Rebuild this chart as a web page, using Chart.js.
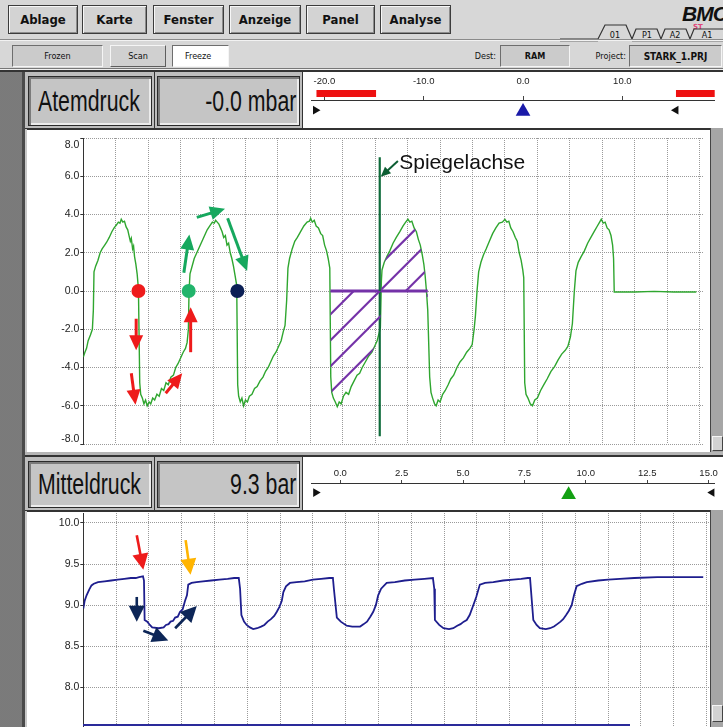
<!DOCTYPE html>
<html><head><meta charset="utf-8"><title>Atemdruck / Mitteldruck</title>
<script src="https://cdn.jsdelivr.net/npm/chart.js@4.4.0/dist/chart.umd.min.js"></script>
<style>
*{box-sizing:border-box}
html,body{margin:0;padding:0}
body{width:723px;height:727px;overflow:hidden;position:relative;background:#d7d7d7;font-family:"Liberation Sans",Arial,sans-serif;color:#111}
.a{position:absolute}
.menu{position:absolute;top:5px;height:29px;background:#d3d3d3;border:1px solid #3c3c3c;box-shadow:inset 1px 1px 0 #f7f7f7,inset -1px -1px 0 #8c8c8c;font:bold 13px "DejaVu Sans Condensed","DejaVu Sans",sans-serif;display:flex;align-items:center;justify-content:center}
.tb{position:absolute;top:45px;height:22px;font:9px "DejaVu Sans Condensed","DejaVu Sans",sans-serif;display:flex;align-items:center;justify-content:center}
.sunk{border:1px solid;border-color:#6e6e6e #f5f5f5 #f5f5f5 #6e6e6e;background:#cbcbcb}
.rais{border:1px solid;border-color:#f5f5f5 #5e5e5e #5e5e5e #f5f5f5;background:#d0d0d0}
.box{position:absolute;background:#c5c5c5;border:1px solid #2a2a2a;box-shadow:inset 2px 2px 0 #7b7b7b,inset -2px -2px 0 #ececec}
.big{position:absolute;font-size:30px;line-height:34px;white-space:nowrap;transform:scaleX(0.71)}
.strip{background-color:#a9a9a9;background-image:radial-gradient(#777 0.7px,transparent 0.8px);background-size:2px 2px}
.sb{position:absolute;background:#a6a6a6;border-left:1px solid #444}
.sbb{position:absolute;background:#d2d2d2;border:1px solid;border-color:#f5f5f5 #444 #444 #f5f5f5}
canvas{position:absolute;display:block}
</style></head><body>

<!-- menu bar -->
<div class="menu" style="left:8px;width:70px">Ablage</div>
<div class="menu" style="left:82px;width:65px">Karte</div>
<div class="menu" style="left:153px;width:71px">Fenster</div>
<div class="menu" style="left:229px;width:72px">Anzeige</div>
<div class="menu" style="left:306px;width:69px">Panel</div>
<div class="menu" style="left:380px;width:71px">Analyse</div>
<div class="a" style="left:682px;top:2px;font:italic bold 21px 'Liberation Sans',Arial;letter-spacing:-1px;color:#111">BMC</div>
<div class="a" style="left:693px;top:23px;font:bold 7px 'DejaVu Sans',sans-serif;color:#e0457a">ST</div>
<svg class="a" style="left:560px;top:20px" width="163" height="22">
  <polyline points="0,19 38,19 45,5 66,5 72,19 76,9 97,9 101,19 105,9 126,9 130,19 134,9 163,9" fill="none" stroke="#333" stroke-width="1.2"/>
  <line x1="0" y1="21" x2="38" y2="21" stroke="#777" stroke-width="1"/>
  <line x1="72" y1="21" x2="163" y2="21" stroke="#777" stroke-width="1"/>
  <text x="55" y="18" font-size="9" font-family="DejaVu Sans Condensed, DejaVu Sans" text-anchor="middle" fill="#111">01</text>
  <text x="87" y="18" font-size="9" font-family="DejaVu Sans Condensed, DejaVu Sans" text-anchor="middle" fill="#111">P1</text>
  <text x="115" y="18" font-size="9" font-family="DejaVu Sans Condensed, DejaVu Sans" text-anchor="middle" fill="#111">A2</text>
  <text x="147" y="18" font-size="9" font-family="DejaVu Sans Condensed, DejaVu Sans" text-anchor="middle" fill="#111">A1</text>
</svg>
<div class="a" style="left:0;top:39px;width:723px;height:1px;background:#8a8a8a"></div>
<div class="a" style="left:0;top:40px;width:723px;height:1px;background:#f2f2f2"></div>

<!-- toolbar -->
<div class="tb sunk" style="left:12px;width:91px">Frozen</div>
<div class="tb rais" style="left:110px;width:56px">Scan</div>
<div class="tb sunk" style="left:172px;width:57px;background:#fff;justify-content:flex-start;padding-left:12px">Freeze</div>
<div class="tb" style="left:462px;width:34px;justify-content:flex-end">Dest:</div>
<div class="tb sunk" style="left:500px;width:70px;font-weight:bold">RAM</div>
<div class="tb" style="left:584px;width:42px;justify-content:flex-end">Project:</div>
<div class="tb sunk" style="left:629px;width:93px;font-weight:bold;font-size:10px">STARK_1.PRJ</div>
<div class="a" style="left:0;top:68px;width:723px;height:1px;background:#777"></div>
<div class="a" style="left:0;top:69px;width:723px;height:1px;background:#f0f0f0"></div>
<div class="a" style="left:0;top:70px;width:723px;height:2px;background:#333"></div>

<!-- left strip -->
<div class="a strip" style="left:0;top:72px;width:22px;height:655px"></div>
<div class="a" style="left:22px;top:72px;width:3px;height:655px;background:#4a4a4a"></div>
<div class="a" style="left:25px;top:72px;width:2px;height:655px;background:#c9c9c9"></div>

<!-- header Atemdruck -->
<div class="a" style="left:25px;top:72px;width:278px;height:57px;background:#bdbdbd;border-bottom:1px solid #333"></div>
<div class="box" style="left:28px;top:76px;width:124px;height:50px"></div>
<div class="a" style="left:154px;top:72px;width:1px;height:57px;background:#333"></div>
<div class="box" style="left:157px;top:76px;width:143px;height:50px"></div>
<div class="big" style="left:38px;top:84px;transform-origin:left center">Atemdruck</div>
<div class="big" style="right:427px;top:84px;transform-origin:right center">-0.0 mbar</div>
<div class="a" style="left:302px;top:72px;width:421px;height:56px;background:#fff;border-left:1px solid #333"></div>
<canvas id="scaleAtem" width="420" height="54" style="left:303px;top:72px"></canvas>

<!-- chart Atemdruck -->
<div class="a" style="left:27px;top:128px;width:683px;height:324px;background:#fff;border-top:2px solid #333"></div>
<canvas id="chartAtem" width="685" height="320" style="left:25px;top:131px"></canvas>
<div class="sb" style="left:710px;top:128px;width:13px;height:324px"></div>
<div class="sbb" style="left:712px;top:436px;width:11px;height:15px"></div>
<div class="a" style="left:25px;top:452px;width:698px;height:3px;background:#b5b5b5"></div>
<div class="a" style="left:25px;top:455px;width:698px;height:2px;background:#333"></div>

<!-- header Mitteldruck -->
<div class="a" style="left:25px;top:457px;width:278px;height:54px;background:#bdbdbd;border-bottom:1px solid #333"></div>
<div class="box" style="left:28px;top:461px;width:124px;height:47px"></div>
<div class="a" style="left:154px;top:457px;width:1px;height:54px;background:#333"></div>
<div class="box" style="left:157px;top:461px;width:143px;height:47px"></div>
<div class="big" style="left:38px;top:467px;transform-origin:left center">Mitteldruck</div>
<div class="big" style="right:427px;top:467px;transform-origin:right center">9.3 bar</div>
<div class="a" style="left:302px;top:457px;width:421px;height:54px;background:#fff;border-left:1px solid #333"></div>
<canvas id="scaleMittel" width="420" height="53" style="left:303px;top:457px"></canvas>

<!-- chart Mitteldruck -->
<div class="a" style="left:27px;top:510px;width:683px;height:217px;background:#fff;border-top:2px solid #333"></div>
<canvas id="chartMittel" width="685" height="214" style="left:25px;top:513px"></canvas>
<div class="sb" style="left:710px;top:510px;width:13px;height:217px"></div>
<div class="sbb" style="left:712px;top:705px;width:11px;height:17px"></div>
<div class="a" style="left:83px;top:724px;width:547px;height:2px;background:#2a2a9a"></div>

<script>
// ---------- data ----------
const gridX = [0,1,2,3,4,5,6,7,8,9,10,11,12,13,14,15,16,17,18,19];
const atemYTicks = [-8,-6,-4,-2,0,2,4,6,8];
const mittelYTicks = [8.0,8.5,9.0,9.5,10.0];
const atemScaleTicks = [-20,-10,0,10];
const mittelScaleTicks = [0,2.5,5,7.5,10,12.5,15];
const atemValue = -0.0;
const mittelValue = 9.3;
const atemLimits = [-20.9, 15.4];
const mittelLimits = [-1.0, 15.15];
const atemAlarmRanges = [[-20.8,-14.8],[15.4,19.3]];

// Atemdruck [t, mbar]
const atemdruck = [
[0.00,-3.45],[0.05,-3.2],[0.10,-3.0],[0.15,-2.6],[0.22,-2.3],[0.28,-2.0],[0.31,-1.0],[0.33,1.0],[0.38,1.3],[0.45,1.6],[0.52,2.0],[0.58,2.2],[0.66,2.4],[0.72,2.55],[0.80,2.8],[0.88,3.1],[0.95,3.3],[1.02,3.45],[1.08,3.6],[1.13,3.55],[1.17,3.75],[1.22,3.6],[1.27,3.65],[1.32,3.35],[1.37,3.2],[1.41,2.9],[1.45,2.6],[1.48,2.75],[1.52,2.2],[1.55,2.35],[1.58,1.8],[1.62,1.4],[1.66,0.9],[1.70,0.1],
[1.74,-4.8],[1.77,-5.4],[1.82,-5.6],[1.87,-5.9],[1.92,-5.7],[1.97,-6.0],[2.03,-5.8],[2.08,-5.9],[2.14,-5.6],[2.20,-5.7],[2.27,-5.4],[2.34,-5.5],[2.41,-5.1],[2.48,-5.2],[2.55,-4.8],[2.62,-4.9],[2.70,-4.5],[2.78,-4.4],[2.85,-4.0],[2.92,-3.8],[3.00,-3.5],[3.08,-3.2],[3.15,-3.0],[3.20,-2.7],[3.24,-2.0],[3.26,0.0],[3.29,0.9],[3.34,1.2],[3.42,1.7],[3.50,2.0],[3.58,2.3],[3.66,2.6],[3.74,2.9],[3.82,3.2],[3.90,3.4],[3.98,3.6],[4.04,3.55],[4.08,3.7],[4.13,3.6],[4.18,3.5],[4.23,3.3],[4.28,3.1],[4.33,2.8],[4.38,2.9],[4.43,2.4],[4.48,2.5],[4.53,2.0],[4.58,1.7],[4.63,1.3],[4.68,0.8],[4.73,0.3],
[4.76,-4.9],[4.79,-5.5],[4.84,-5.8],[4.89,-5.6],[4.94,-6.0],[5.00,-5.7],[5.06,-5.8],[5.12,-5.5],[5.20,-5.4],[5.28,-5.1],[5.36,-5.0],[5.45,-4.7],[5.54,-4.5],[5.62,-4.2],[5.70,-4.0],[5.78,-3.7],[5.86,-3.4],[5.94,-3.2],[6.02,-2.9],[6.10,-2.6],[6.17,-2.1],[6.22,-1.8],[6.27,-0.5],[6.31,1.2],[6.36,1.7],[6.44,2.2],[6.52,2.6],[6.60,2.8],[6.70,3.1],[6.80,3.4],[6.90,3.6],[6.97,3.65],[7.01,3.8],[7.06,3.6],[7.12,3.7],[7.18,3.4],[7.25,3.3],[7.32,3.0],[7.38,2.9],[7.44,2.4],[7.50,2.1],[7.55,1.7],[7.60,1.2],
[7.63,-4.5],[7.66,-5.3],[7.71,-5.6],[7.77,-5.8],[7.83,-6.05],[7.89,-5.8],[7.95,-5.9],[8.02,-5.5],[8.10,-5.3],[8.18,-5.4],[8.26,-5.0],[8.35,-4.7],[8.44,-4.4],[8.52,-4.3],[8.60,-4.0],[8.70,-3.7],[8.80,-3.4],[8.90,-3.2],[8.98,-2.9],[9.06,-2.6],[9.12,-2.2],[9.16,-1.9],[9.19,0.5],[9.21,1.1],[9.28,1.5],[9.36,1.8],[9.45,2.1],[9.55,2.5],[9.65,2.8],[9.76,3.1],[9.86,3.4],[9.94,3.6],[10.01,3.75],[10.07,3.6],[10.13,3.65],[10.20,3.3],[10.27,3.1],[10.33,2.7],[10.39,2.4],[10.45,1.9],[10.50,1.4],[10.54,0.8],[10.58,0.0],[10.62,-1.0],
[10.68,-4.5],[10.72,-5.3],[10.77,-5.6],[10.83,-5.9],[10.88,-6.0],[10.94,-5.7],[11.00,-5.8],[11.08,-5.4],[11.16,-5.2],[11.25,-4.9],[11.33,-4.6],[11.42,-4.4],[11.52,-4.0],[11.62,-3.7],[11.72,-3.5],[11.82,-3.2],[11.92,-3.0],[11.99,-2.8],[12.05,-2.0],[12.09,-1.3],[12.14,0.0],[12.19,1.0],[12.26,1.5],[12.34,1.9],[12.42,2.2],[12.52,2.6],[12.62,3.0],[12.72,3.3],[12.82,3.55],[12.92,3.6],[13.00,3.75],[13.06,3.6],[13.12,3.65],[13.18,3.3],[13.25,3.1],[13.32,2.8],[13.38,2.6],[13.44,2.0],[13.50,1.6],[13.55,1.1],[13.58,0.7],
[13.61,-4.8],[13.65,-5.4],[13.71,-5.6],[13.78,-5.9],[13.85,-6.0],[13.92,-5.7],[14.00,-5.6],[14.10,-5.2],[14.20,-4.9],[14.30,-4.6],[14.42,-4.2],[14.53,-3.95],[14.64,-3.6],[14.75,-3.3],[14.86,-3.1],[14.94,-2.9],[15.02,-2.4],[15.08,-1.7],[15.14,0.0],[15.19,1.05],[15.26,1.5],[15.35,1.8],[15.45,2.1],[15.55,2.5],[15.65,2.8],[15.75,3.1],[15.85,3.4],[15.92,3.6],[15.97,3.75],[16.03,3.55],[16.09,3.6],[16.15,3.3],[16.21,3.2],[16.27,2.9],[16.32,2.4],[16.35,1.7],
[16.37,-0.05],[17.00,-0.05],[17.60,-0.02],[18.20,-0.05],[18.90,-0.05]
];

// Mitteldruck [t, bar]
const mitteldruck = [
[0.00,8.96],[0.04,9.05],[0.10,9.12],[0.18,9.19],[0.25,9.24],[0.32,9.26],[0.45,9.28],[0.65,9.29],[0.85,9.30],[1.05,9.31],[1.25,9.32],[1.45,9.33],[1.60,9.33],[1.70,9.34],[1.82,9.35],[1.85,9.30],[1.87,8.82],[1.95,8.80],[2.03,8.76],[2.10,8.73],[2.30,8.72],[2.45,8.73],[2.52,8.76],[2.60,8.77],[2.66,8.80],[2.74,8.81],[2.80,8.85],[2.88,8.86],[2.95,8.92],[3.03,8.95],[3.10,9.05],[3.16,9.12],[3.20,9.25],[3.30,9.27],[3.45,9.28],[3.65,9.29],[3.90,9.30],[4.15,9.31],[4.40,9.32],[4.60,9.33],[4.74,9.33],
[4.78,9.20],[4.82,8.88],[4.90,8.80],[4.98,8.76],[5.08,8.73],[5.18,8.71],[5.30,8.72],[5.42,8.74],[5.52,8.76],[5.62,8.80],[5.72,8.83],[5.82,8.87],[5.90,8.92],[5.98,8.98],[6.05,9.05],[6.10,9.16],[6.18,9.23],[6.30,9.27],[6.50,9.28],[6.75,9.29],[7.00,9.31],[7.25,9.32],[7.50,9.33],[7.61,9.33],
[7.64,9.20],[7.73,8.85],[7.85,8.80],[8.03,8.75],[8.20,8.74],[8.44,8.74],[8.55,8.77],[8.65,8.80],[8.75,8.86],[8.84,8.92],[8.92,9.00],[8.99,9.12],[9.08,9.20],[9.25,9.27],[9.50,9.28],[9.80,9.30],[10.10,9.31],[10.40,9.32],[10.66,9.33],
[10.70,9.20],[10.72,8.82],[10.85,8.76],[10.98,8.72],[11.15,8.71],[11.28,8.72],[11.40,8.75],[11.50,8.77],[11.60,8.80],[11.69,8.82],[11.78,8.88],[11.89,9.00],[11.98,9.10],[12.09,9.25],[12.25,9.27],[12.50,9.28],[12.80,9.30],[13.10,9.31],[13.35,9.32],[13.55,9.33],[13.62,9.33],
[13.72,8.82],[13.82,8.76],[13.92,8.72],[14.10,8.71],[14.23,8.72],[14.35,8.74],[14.45,8.77],[14.55,8.80],[14.63,8.83],[14.72,8.88],[14.80,8.93],[14.89,9.00],[14.96,9.12],[15.04,9.23],[15.20,9.26],[15.35,9.28],[15.70,9.30],[16.00,9.31],[16.36,9.32],[16.80,9.33],[17.50,9.34],[18.90,9.34]
];

// annotations (data coordinates)
const mirrorAxis = [[9.14,7.0],[9.14,-7.6]];
const mirrorBase = [[7.62,0],[10.62,0]];
const hatchRange = [7.62,10.62];
const markerDots = [[1.70,0],[3.25,0],[4.75,0]];
const markerDotColors = ['#ee1b1b','#21b46b','#0b1f55'];
const atemArrows = [
  {from:[1.63,-1.45],to:[1.63,-3.1],color:'#ee1b1b'},
  {from:[1.48,-4.3],to:[1.61,-5.95],color:'#ee1b1b'},
  {from:[2.54,-5.35],to:[3.05,-4.3],color:'#ee1b1b'},
  {from:[3.31,-3.2],to:[3.31,-0.85],color:'#ee1b1b'},
  {from:[3.10,0.95],to:[3.27,2.95],color:'#16a85e'},
  {from:[3.50,3.85],to:[4.37,4.3],color:'#16a85e'},
  {from:[4.45,3.8],to:[5.05,1.05],color:'#16a85e'},
  {from:[9.70,6.8],to:[9.17,5.97],color:'#0d5e33',w:2,len:10,wid:9}
];
const mittelArrows = [
  {from:[1.63,9.85],to:[1.83,9.43],color:'#ee1b1b'},
  {from:[3.12,9.79],to:[3.27,9.37],color:'#ffb400'},
  {from:[1.63,9.10],to:[1.63,8.80],color:'#0d2657'},
  {from:[1.83,8.69],to:[2.59,8.57],color:'#0d2657'},
  {from:[2.80,8.72],to:[3.46,8.99],color:'#0d2657'}
];

// ---------- drawing ----------
const FONT = '"Liberation Sans", Arial, sans-serif';
const pts = arr => arr.map(p => ({x:p[0], y:p[1]}));

function drawArrow(ctx,x1,y1,x2,y2,color,w,L,W){
  const a = Math.atan2(y2-y1,x2-x1), c = Math.cos(a), s = Math.sin(a);
  const bx = x2 - L*c, by = y2 - L*s;
  ctx.strokeStyle = color; ctx.fillStyle = color; ctx.lineWidth = w; ctx.lineCap = 'butt';
  ctx.beginPath(); ctx.moveTo(x1,y1); ctx.lineTo(bx+c,by+s); ctx.stroke();
  ctx.beginPath(); ctx.moveTo(x2,y2);
  ctx.lineTo(bx + W/2*s, by - W/2*c);
  ctx.lineTo(bx - W/2*s, by + W/2*c);
  ctx.closePath(); ctx.fill();
}

const marksPlugin = {
  id:'marks',
  afterDatasetsDraw(chart,args,o){
    const ctx = chart.ctx, xs = chart.scales.x, ys = chart.scales.y;
    const X = v => xs.getPixelForValue(v), Y = v => ys.getPixelForValue(v);
    ctx.save();
    if (o.hatch){
      const h = o.hatch;
      ctx.beginPath();
      ctx.moveTo(X(h.range[0]), Y(0));
      h.data.filter(p => p[0] > h.range[0] && p[0] <= h.range[1]).forEach(p => ctx.lineTo(X(p[0]), Y(p[1])));
      ctx.lineTo(X(h.range[1]), Y(0));
      ctx.closePath();
      ctx.save(); ctx.clip();
      const ox = X(h.axis), oy = Y(0);
      ctx.strokeStyle = h.color; ctx.lineWidth = 2.2;
      for (let k = -8; k <= 8; k++){
        ctx.beginPath(); ctx.moveTo(ox-220, oy+220+k*26); ctx.lineTo(ox+220, oy-220+k*26); ctx.stroke();
      }
      ctx.restore();
    }
    const d = o.arrowDefaults || {w:3, len:14, wid:13};
    (o.arrows||[]).forEach(a => drawArrow(ctx, X(a.from[0]), Y(a.from[1]), X(a.to[0]), Y(a.to[1]), a.color, a.w||d.w, a.len||d.len, a.wid||d.wid));
    if (o.text){
      ctx.font = o.text.font; ctx.fillStyle = '#111'; ctx.textAlign = 'left'; ctx.textBaseline = 'alphabetic';
      ctx.fillText(o.text.str, X(o.text.at[0]), Y(o.text.at[1]));
    }
    ctx.restore();
  },
  afterDraw(chart,args,o){
    if (!o.yLabels) return;
    const ctx = chart.ctx, ys = chart.scales.y, ca = chart.chartArea;
    ctx.save();
    ctx.font = '10.5px ' + FONT; ctx.fillStyle = '#222'; ctx.textAlign = 'right'; ctx.textBaseline = 'middle';
    o.yLabels.forEach(v => {
      let py = ys.getPixelForValue(v);
      py = Math.min(Math.max(py, ca.top + 7), ca.bottom - 5);
      ctx.fillText(v.toFixed(1), ca.left - 4, py);
    });
    ctx.restore();
  }
};

function plotChart(id, cfg){
  return new Chart(document.getElementById(id), {
    type:'scatter',
    data:{datasets:cfg.datasets},
    options:{
      responsive:false, animation:false, events:[],
      layout:{padding:0},
      plugins:{legend:{display:false}, tooltip:{enabled:false}, marks:cfg.marks},
      scales:{
        x:{type:'linear', min:cfg.xMin, max:cfg.xMax,
           afterBuildTicks:s => { s.ticks = gridX.map(v => ({value:v})); },
           afterFit:s => { s.height = 0; },
           ticks:{display:false},
           grid:{color:'#9a9a9a', lineWidth:1, drawTicks:false},
           border:{display:false, dash:[1,1]}},
        y:{type:'linear', min:cfg.yMin, max:cfg.yMax,
           afterBuildTicks:s => { s.ticks = cfg.yTicks.map(v => ({value:v})); },
           afterFit:s => { s.width = 58.3; },
           ticks:{display:false},
           grid:{color:'#9a9a9a', lineWidth:1, drawTicks:true, tickLength:3, tickColor:'#333'},
           border:{display:true, color:'#333', width:1, dash:[1,1]}}
      }
    },
    plugins:[marksPlugin]
  });
}

plotChart('chartAtem', {
  xMin:0, xMax:19.107, yMin:-8, yMax:8, yTicks:atemYTicks,
  datasets:[
    {data:pts(markerDots), pointRadius:7, pointBackgroundColor:markerDotColors, pointBorderWidth:0, showLine:false},
    {data:pts(mirrorAxis), showLine:true, borderColor:'#0e6b3a', borderWidth:2.2, pointRadius:0},
    {data:pts(mirrorBase), showLine:true, borderColor:'#7432a8', borderWidth:3, pointRadius:0},
    {data:pts(atemdruck), showLine:true, borderColor:'#2fa62f', borderWidth:1.4, pointRadius:0, tension:0}
  ],
  marks:{
    yLabels:atemYTicks,
    hatch:{data:atemdruck, range:hatchRange, axis:mirrorAxis[0][0], color:'#7432a8'},
    arrows:atemArrows,
    arrowDefaults:{w:3, len:15, wid:14},
    text:{str:'Spiegelachse', at:[9.74,6.4], font:'21px ' + FONT}
  }
});

plotChart('chartMittel', {
  xMin:0, xMax:19.107, yMin:7.52, yMax:10.12, yTicks:mittelYTicks,
  datasets:[
    {data:pts(mitteldruck), showLine:true, borderColor:'#1e1e8e', borderWidth:1.8, pointRadius:0, tension:0}
  ],
  marks:{ yLabels:mittelYTicks, arrows:mittelArrows, arrowDefaults:{w:2.6, len:16, wid:16} }
});

const alarmPlugin = {
  id:'alarm',
  afterDraw(chart,args,o){
    if (!o.ranges) return;
    const ctx = chart.ctx, xs = chart.scales.x;
    ctx.save(); ctx.fillStyle = '#ee1111';
    o.ranges.forEach(r => { const a = xs.getPixelForValue(r[0]), b = xs.getPixelForValue(r[1]); ctx.fillRect(a, o.top, b - a, o.h); });
    ctx.restore();
  }
};

function miniScale(id, o){
  return new Chart(document.getElementById(id), {
    type:'scatter',
    data:{datasets:[
      {data:[{x:o.value, y:o.markerY}], pointStyle:'triangle', pointRadius:8.5, pointBackgroundColor:o.color, pointBorderWidth:0},
      {data:o.limits.map(v => ({x:v, y:o.limitY})), pointStyle:'triangle', pointRotation:[90,-90], pointRadius:5, pointBackgroundColor:'#111', pointBorderWidth:0}
    ]},
    options:{
      responsive:false, animation:false, events:[], layout:{padding:0},
      plugins:{legend:{display:false}, tooltip:{enabled:false}, alarm:o.alarm||{}},
      scales:{
        x:{type:'linear', position:'top', min:o.min, max:o.max,
           afterBuildTicks:s => { s.ticks = o.ticks.map(v => ({value:v})); },
           afterFit:s => { s.height = o.axisH; },
           ticks:{padding:o.pad, maxRotation:0, autoSkip:false, font:{size:9.5, family:FONT}, color:'#222', callback:v => v.toFixed(1)},
           grid:{drawOnChartArea:false, drawTicks:true, tickLength:o.tl, tickColor:'#444'},
           border:{display:true, color:'#333', width:1}},
        y:{display:false, min:0, max:1}
      }
    },
    plugins:[alarmPlugin]
  });
}

miniScale('scaleAtem', {min:-21.3, max:19.28, ticks:atemScaleTicks, value:atemValue, color:'#1a1aa8', limits:atemLimits,
  markerY:0.35, limitY:0.42, axisH:28, pad:8.6, tl:4, alarm:{ranges:atemAlarmRanges, top:18, h:7}});
miniScale('scaleMittel', {min:-1.17, max:15.24, ticks:mittelScaleTicks, value:mittelValue, color:'#13a013', limits:mittelLimits,
  markerY:0.37, limitY:0.48, axisH:26, pad:1, tl:3});
</script>
</body></html>
